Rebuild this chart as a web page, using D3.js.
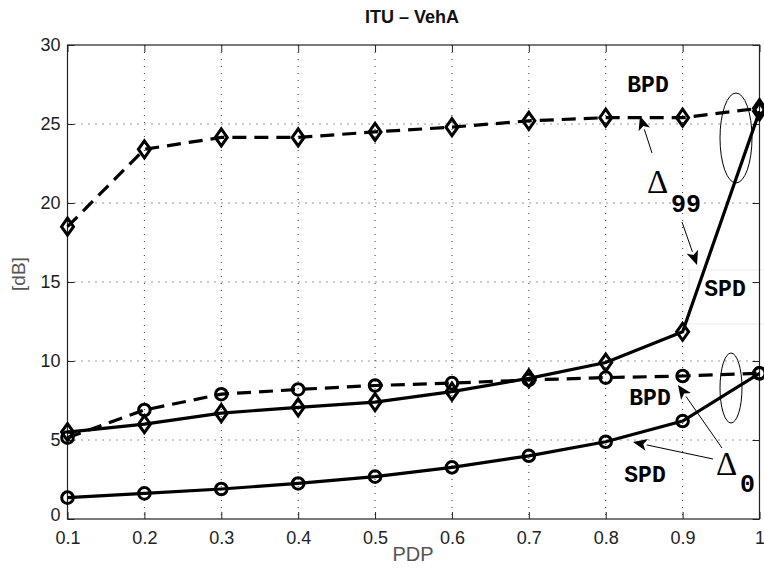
<!DOCTYPE html>
<html><head><meta charset="utf-8">
<script src="https://cdn.jsdelivr.net/npm/d3@7/dist/d3.min.js"></script>
<style>body{margin:0;background:#fff}svg{display:block}</style>
</head><body>
<svg id="c" width="764" height="573"></svg>
<script>
const pdp = [0.1,0.2,0.3,0.4,0.5,0.6,0.7,0.8,0.9,1.0];
const bpd99 = [18.5,23.4,24.15,24.15,24.5,24.8,25.2,25.4,25.4,26.0];
const spd99 = [5.5,6.0,6.7,7.07,7.4,8.06,8.9,9.9,11.85,25.8];
const bpd0  = [5.15,6.9,7.9,8.2,8.45,8.6,8.8,8.95,9.05,9.22];
const spd0  = [1.35,1.62,1.9,2.25,2.68,3.27,4.0,4.89,6.2,9.22];
const xTicks = [0.1,0.2,0.3,0.4,0.5,0.6,0.7,0.8,0.9,1];
const yTicks = [0,5,10,15,20,25,30];

const svg = d3.select('#c');
const L=67.5, R=759.5, T=45, B=519;
const x = d3.scaleLinear().domain([0.1,1]).range([L,R]);
const y = d3.scaleLinear().domain([0,30]).range([B,T]);

// grid
const g = svg.append('g');
g.selectAll('.vg').data(xTicks.slice(1,-1)).join('line')
  .attr('x1',d=>x(d)).attr('x2',d=>x(d)).attr('y1',T).attr('y2',B)
  .attr('stroke','#333').attr('stroke-width',1).attr('stroke-dasharray','1,6');
g.selectAll('.hg').data(yTicks.slice(1,-1)).join('line')
  .attr('x1',L).attr('x2',R).attr('y1',d=>y(d)).attr('y2',d=>y(d))
  .attr('stroke','#333').attr('stroke-width',1).attr('stroke-dasharray','1,6');

// SPD label box (white, faint edge)
svg.append('rect').attr('x',689).attr('y',270).attr('width',90).attr('height',54)
  .attr('fill','#fff').attr('stroke','#ececec').attr('stroke-width',1);

// axes
const ax = svg.append('g').attr('font-family','Liberation Sans, Arial, sans-serif');
ax.append('g').attr('transform',`translate(0,${B})`)
  .call(d3.axisBottom(x).tickValues(xTicks).tickSize(-7).tickPadding(12).tickFormat(d=>d===1?'1':d3.format('.1f')(d)))
  .call(s=>{s.select('.domain').remove();s.selectAll('text').attr('font-size',18).attr('fill','#222');s.selectAll('line').attr('stroke','#222');});
ax.append('g').attr('transform',`translate(${L},0)`)
  .call(d3.axisLeft(y).tickValues(yTicks).tickSize(-7).tickPadding(7))
  .call(s=>{s.select('.domain').remove();s.selectAll('text').attr('font-size',18).attr('fill','#222');s.selectAll('line').attr('stroke','#222');
    s.selectAll('.tick').filter(d=>d===0).select('text').attr('dy','0.1em');});
ax.append('g').attr('transform',`translate(0,${T})`)
  .call(d3.axisTop(x).tickValues(xTicks).tickSize(-7).tickFormat(''))
  .call(s=>{s.select('.domain').remove();s.selectAll('line').attr('stroke','#222');});
ax.append('g').attr('transform',`translate(${R},0)`)
  .call(d3.axisRight(y).tickValues(yTicks).tickSize(-7).tickFormat(''))
  .call(s=>{s.select('.domain').remove();s.selectAll('line').attr('stroke','#222');});
svg.append('rect').attr('x',L).attr('y',T).attr('width',R-L).attr('height',B-T)
  .attr('fill','none').attr('stroke','#222').attr('stroke-width',1.2);

// series
const line = d3.line().x(d=>x(d[0])).y(d=>y(d[1]));
function series(vals, dashed, marker){
  const pts = pdp.map((p,i)=>[p,vals[i]]);
  svg.append('path').datum(pts).attr('d',line).attr('fill','none')
    .attr('stroke','#000').attr('stroke-width',3.2)
    .attr('stroke-dasharray',dashed?'14,8':null);
  const m = svg.append('g');
  if(marker==='circle'){
    m.selectAll('circle').data(pts).join('circle')
      .attr('cx',d=>x(d[0])).attr('cy',d=>y(d[1])).attr('r',5.8)
      .attr('fill','none').attr('stroke','#000').attr('stroke-width',3);
  } else {
    m.selectAll('path').data(pts).join('path')
      .attr('d',d=>{const cx=x(d[0]),cy=y(d[1]);return `M${cx},${cy-8.5}L${cx+6},${cy}L${cx},${cy+8.5}L${cx-6},${cy}Z`;})
      .attr('fill','none').attr('stroke','#000').attr('stroke-width',3);
  }
}
series(bpd99,true,'diamond');
series(spd99,false,'diamond');
series(bpd0,true,'circle');
series(spd0,false,'circle');

// ellipses
svg.append('ellipse').attr('cx',736).attr('cy',138).attr('rx',16).attr('ry',45)
  .attr('fill','none').attr('stroke','#000').attr('stroke-width',1);
svg.append('ellipse').attr('cx',731).attr('cy',388).attr('rx',11).attr('ry',35)
  .attr('fill','none').attr('stroke','#000').attr('stroke-width',1);

// arrows
function arrow(x1,y1,x2,y2){
  const a=Math.atan2(y2-y1,x2-x1), len=14, w=6;
  const bx=x2-len*Math.cos(a), by=y2-len*Math.sin(a);
  svg.append('line').attr('x1',x1).attr('y1',y1).attr('x2',bx).attr('y2',by)
    .attr('stroke','#000').attr('stroke-width',1);
  const px=-Math.sin(a)*w, py=Math.cos(a)*w;
  const ix=x2-len*0.75*Math.cos(a), iy=y2-len*0.75*Math.sin(a);
  svg.append('path').attr('d',`M${x2},${y2}L${bx+px},${by+py}L${ix},${iy}L${bx-px},${by-py}Z`).attr('fill','#000');
}
arrow(652,153,640,116);
arrow(682,222,697,265);
arrow(722,448,678,385);
arrow(713,459,633,442);

// annotation texts
const mono = 'Liberation Mono, Courier New, monospace';
function t(txt,xx,yy,size,fam,weight,anchor){
  svg.append('text').attr('x',xx).attr('y',yy).attr('font-size',size).attr('font-family',fam)
    .attr('font-weight',weight||'normal').attr('text-anchor',anchor||'start').text(txt);
}
t('BPD',648,92,23,mono,'bold','middle');
t('Δ',647,193,33,'Liberation Serif, DejaVu Serif, serif');
t('99',671,212,25,mono,'bold');
t('SPD',725,296,23,mono,'bold','middle');
t('BPD',650,405,23,mono,'bold','middle');
t('SPD',645,482,23,mono,'bold','middle');
t('Δ',716,475,33,'Liberation Serif, DejaVu Serif, serif');
t('0',740,492,25,mono,'bold');

// titles
svg.append('text').attr('x',412).attr('y',23).attr('text-anchor','middle')
  .attr('font-family','Liberation Sans, Arial, sans-serif').attr('font-weight','bold').attr('font-size',18)
  .attr('fill','#111').text('ITU – VehA');
svg.append('text').attr('x',413).attr('y',561).attr('text-anchor','middle')
  .attr('font-family','Liberation Sans, Arial, sans-serif').attr('font-size',20)
  .attr('fill','#555').text('PDP');
svg.append('text').attr('transform','translate(25,274) rotate(-90)').attr('text-anchor','middle')
  .attr('font-family','Liberation Sans, Arial, sans-serif').attr('font-size',19)
  .attr('fill','#555').text('[dB]');
</script>
</body></html>
